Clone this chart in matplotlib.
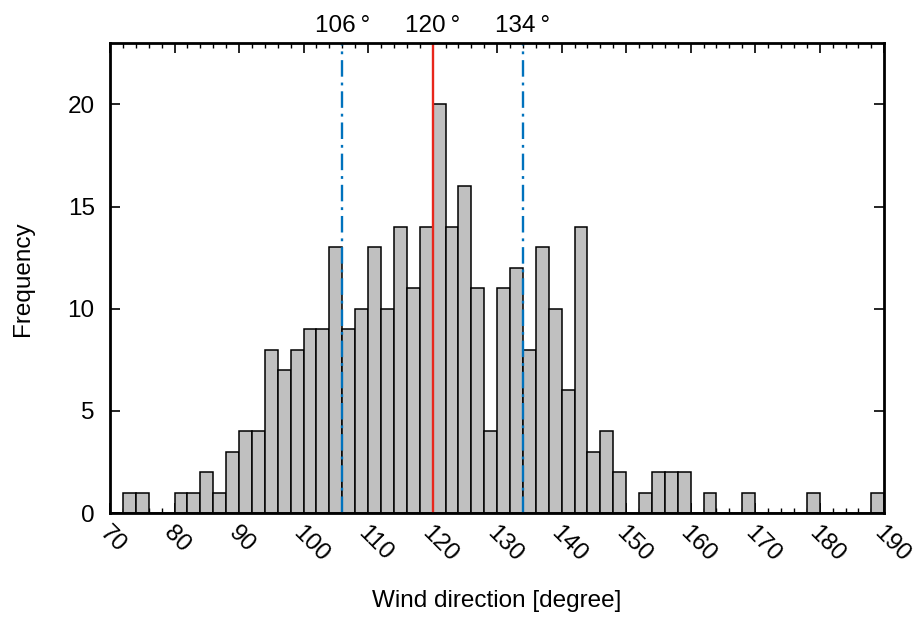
import numpy as np
import matplotlib
matplotlib.use("Agg")
from matplotlib import pyplot as plt
from matplotlib.ticker import MultipleLocator
from matplotlib.transforms import ScaledTranslation

plt.rcParams['font.family'] = ['Liberation Sans', 'DejaVu Sans']

# histogram of wind direction, 2 degree bins starting at 70
bin_start = np.arange(70, 190, 2)
counts = [0, 1, 1, 0, 0, 1, 1, 2, 1, 3,
          4, 4, 8, 7, 8, 9, 9, 13, 9, 10,
          13, 10, 14, 11, 14, 20, 14, 16, 11, 4,
          11, 12, 8, 13, 10, 6, 14, 3, 4, 2,
          0, 1, 2, 2, 2, 0, 1, 0, 0, 1,
          0, 0, 0, 0, 1, 0, 0, 0, 0, 1]
mean_dir = 120
band_dirs = [106, 134]
xticks = list(range(70, 191, 10))
yticks = [0, 5, 10, 15, 20]

FS = 17.5

fig = plt.figure(figsize=(9.13, 6.19), dpi=100)
ax = fig.add_axes([0.1205, 0.1712, 0.848, 0.7593])

ax.bar(bin_start, counts, width=2, align='edge', color='#c0c0c0',
       edgecolor='black', linewidth=1.1, zorder=2)

ax.axvline(mean_dir, color='#e8261b', linewidth=1.7, zorder=3)
for d in band_dirs:
    ax.axvline(d, color='#0072bd', linewidth=1.7, zorder=3,
               dashes=(7, 2.5, 1.2, 2.5))

for d in band_dirs[:1] + [mean_dir] + band_dirs[1:]:
    ax.annotate(f"{d}\u2009°", xy=(d, 1.0), xycoords=('data', 'axes fraction'),
                xytext=(0, 8), textcoords='offset points',
                ha='center', va='baseline', fontsize=FS)

ax.set_xlim(70, 190)
ax.set_ylim(0, 23)
ax.set_xticks(xticks)
ax.xaxis.set_minor_locator(MultipleLocator(2))
ax.set_yticks(yticks)

ax.tick_params(axis='both', which='major', direction='in', length=7,
               width=1.2, top=True, right=True, labelsize=FS)
ax.tick_params(axis='x', which='minor', direction='in', length=3.5,
               width=1.0, top=True, bottom=True)
ax.tick_params(axis='x', which='major', pad=12)
ax.tick_params(axis='y', which='major', pad=11)
shift = ScaledTranslation(-7 / 100, 0, fig.dpi_scale_trans)
for lab in ax.get_xticklabels():
    lab.set_rotation(-45)
    lab.set_rotation_mode('anchor')
    lab.set_ha('left')
    lab.set_va('center')
    lab.set_transform(lab.get_transform() + shift)

for s in ax.spines.values():
    s.set_linewidth(2.0)
    s.set_zorder(5)

fig.text(497 / 913, 1 - 601 / 619, "Wind direction [degree]",
         ha='center', va='center', fontsize=FS)
fig.text(23 / 913, 1 - 279 / 619, "Frequency", rotation=90,
         ha='center', va='center', fontsize=FS)

fig.savefig("out.png", dpi=100)
